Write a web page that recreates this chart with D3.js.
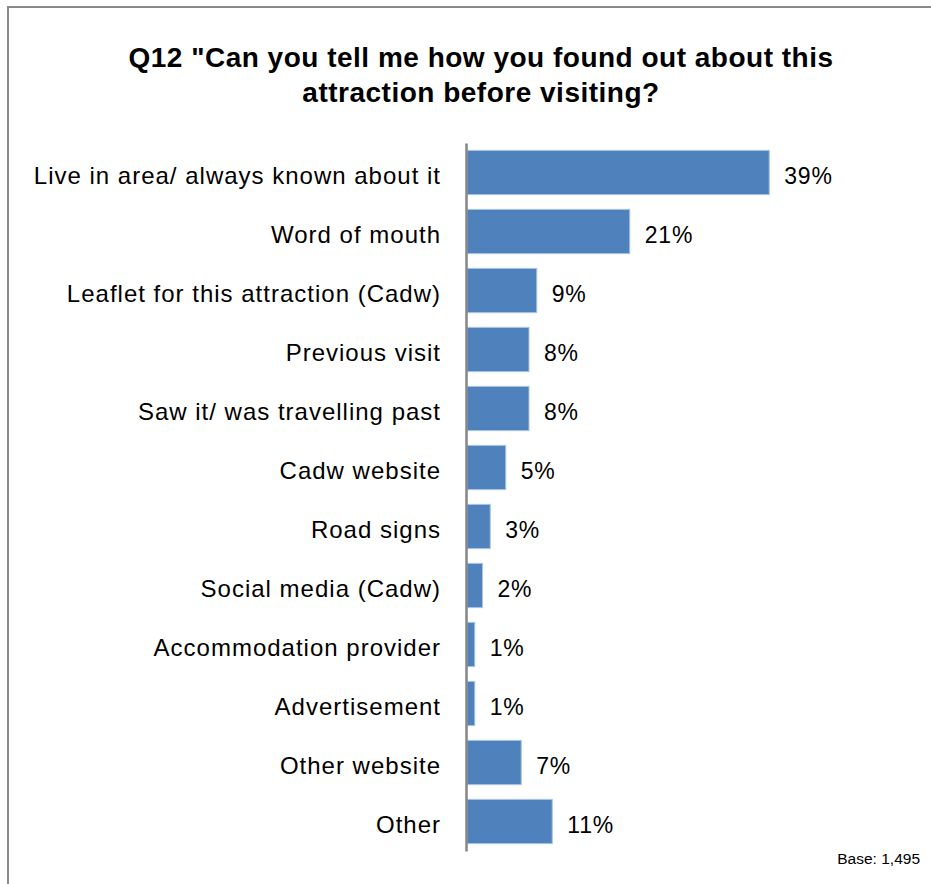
<!DOCTYPE html>
<html>
<head>
<meta charset="utf-8">
<script src="https://cdn.jsdelivr.net/npm/d3@7"></script>
<style>
  html, body { margin: 0; padding: 0; background: #fff; }
  svg { display: block; font-family: "Liberation Sans", Arial, sans-serif; }
</style>
</head>
<body>
<svg id="chart" width="931" height="884"></svg>
<script>
// Survey answers, in display order (top to bottom)
const categories = [
  "Live in area/ always known about it",
  "Word of mouth",
  "Leaflet for this attraction (Cadw)",
  "Previous visit",
  "Saw it/ was travelling past",
  "Cadw website",
  "Road signs",
  "Social media (Cadw)",
  "Accommodation provider",
  "Advertisement",
  "Other website",
  "Other"
];
// Share of respondents (%)
const values = [39, 21, 9, 8, 8, 5, 3, 2, 1, 1, 7, 11];
const titleLines = [
  "Q12 \"Can you tell me how you found out about this",
  "attraction before visiting?"
];
const baseNote = "Base: 1,495";

const W = 931, H = 884;
const svg = d3.select("#chart");

svg.append("rect").attr("width", W).attr("height", H).attr("fill", "#fff");

// Chart frame (top and left edges)
svg.append("path")
  .attr("d", `M8,${H} L8,7 L${W},7`)
  .attr("fill", "none")
  .attr("stroke", "#8a8a8a")
  .attr("stroke-width", 2);

// Title
svg.append("g").selectAll("text")
  .data(titleLines)
  .join("text")
  .attr("x", 481)
  .attr("y", (d, i) => 67 + i * 35)
  .attr("text-anchor", "middle")
  .attr("font-size", 28)
  .attr("letter-spacing", 0.5)
  .attr("font-weight", "bold")
  .attr("fill", "#000")
  .text(d => d);

const y = d3.scaleBand()
  .domain(categories)
  .range([143, 851])
  .paddingInner(0.25)
  .paddingOuter(0.125);

const x = d3.scaleLinear()
  .domain([0, 40])
  .range([467, 777]);

const rows = categories.map((c, i) => ({ c, v: values[i] }));

// Bars
svg.append("g").selectAll("rect")
  .data(rows)
  .join("rect")
  .attr("x", x(0))
  .attr("y", d => y(d.c))
  .attr("width", d => x(d.v) - x(0))
  .attr("height", y.bandwidth())
  .attr("fill", "#4f81bd")
  .attr("stroke", "#a9c4e6")
  .attr("stroke-width", 1);

// Value labels
svg.append("g").selectAll("text")
  .data(rows)
  .join("text")
  .attr("x", d => x(d.v) + 15)
  .attr("y", d => y(d.c) + y.bandwidth() / 2 + 11)
  .attr("font-size", 23)
  .attr("letter-spacing", 0.8)
  .attr("fill", "#000")
  .text(d => d.v + "%");

// Category axis
const axis = svg.append("g")
  .attr("transform", "translate(466,0)")
  .call(d3.axisLeft(y).tickSize(0).tickPadding(25));
axis.select(".domain")
  .attr("stroke", "#868686")
  .attr("stroke-width", 2.5);
axis.selectAll(".tick text")
  .attr("font-family", "'Liberation Sans', Arial, sans-serif")
  .attr("font-size", 24)
  .attr("letter-spacing", 1)
  .attr("fill", "#000")
  .attr("dy", null)
  .attr("y", 11);

// Sample size note
svg.append("text")
  .attr("x", 920)
  .attr("y", 864)
  .attr("text-anchor", "end")
  .attr("font-size", 15.5)
  .attr("fill", "#000")
  .text(baseNote);
</script>
</body>
</html>
